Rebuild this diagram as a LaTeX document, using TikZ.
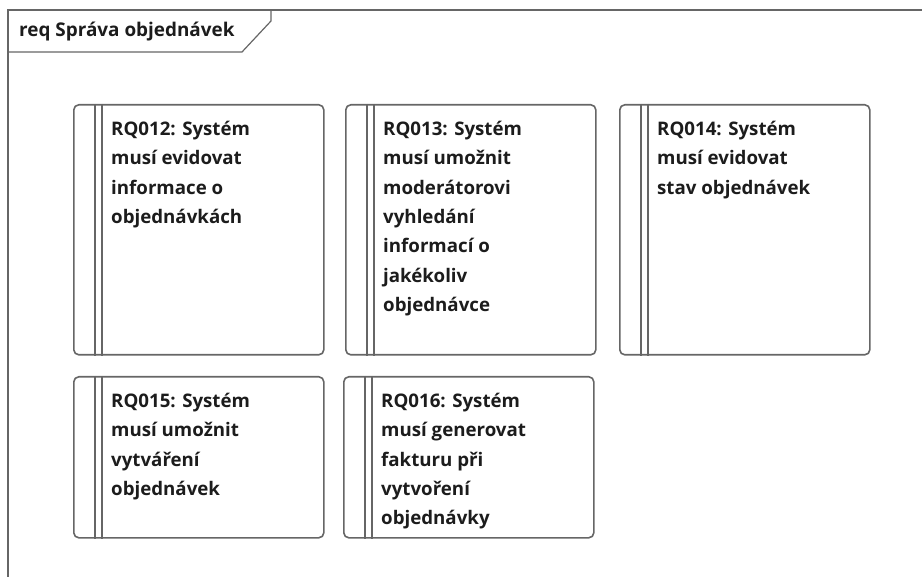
\documentclass[tikz,border=0pt]{standalone}
\usepackage{fontspec}
\setmainfont{Open Sans}
\definecolor{boxgray}{HTML}{666666}
\definecolor{txt}{HTML}{1c1c1c}
\tikzset{
  reqbox/.style={draw=boxgray, line width=1.6pt, rounded corners=5pt, minimum width=250pt, minimum height=#1, anchor=north west, inner sep=0pt},
  barline/.style={draw=boxgray, line width=1.3pt},
  reqtext/.style={anchor=north west, inner sep=0pt, align=left, text=txt, font=\fontsize{18.7pt}{29.3pt}\selectfont\bfseries},
  framel/.style={draw=boxgray, line width=1.2pt}
}
\begin{document}
\begin{tikzpicture}[x=1pt,y=-1pt]
\useasboundingbox (0,0) rectangle (922,577);
% frame
\coordinate (f1) at (8,590);
\coordinate (f2) at (8,10);
\coordinate (f3) at (930,10);
\draw[framel] (f1) -- (f2) -- (f3);
\coordinate (t1) at (8,52);
\coordinate (t2) at (242,52);
\coordinate (t3) at (271,21);
\coordinate (t4) at (271,10);
\draw[framel] (t1) -- (t2) -- (t3) -- (t4);
\node[anchor=base west, inner sep=0pt, text=txt, font=\fontsize{18.9pt}{20pt}\selectfont\bfseries] (title) at (19,37) {req Správa objednávek};
% boxes
\node[reqbox=250pt] (b1) at (73,104) {};
\node[reqbox=250pt] (b2) at (345,104) {};
\node[reqbox=250pt] (b3) at (619,104) {};
\node[reqbox=161pt] (b4) at (73,376) {};
\node[reqbox=161pt] (b5) at (343,376) {};
\foreach \b in {b1,b2,b3,b4,b5}{
  \draw[barline] ([xshift=22pt]\b.north west) -- ([xshift=22pt]\b.south west);
  \draw[barline] ([xshift=29pt]\b.north west) -- ([xshift=29pt]\b.south west);
}
\node[reqtext] (x1) at ([xshift=38pt,yshift=-17pt]b1.north west) {RQ012: Systém\\musí evidovat\\informace o\\objednávkách};
\node[reqtext] (x2) at ([xshift=38pt,yshift=-17pt]b2.north west) {RQ013: Systém\\musí umožnit\\moderátorovi\\vyhledání\\informací o\\jakékoliv\\objednávce};
\node[reqtext] (x3) at ([xshift=38pt,yshift=-17pt]b3.north west) {RQ014: Systém\\musí evidovat\\stav objednávek};
\node[reqtext] (x4) at ([xshift=38pt,yshift=-17pt]b4.north west) {RQ015: Systém\\musí umožnit\\vytváření\\objednávek};
\node[reqtext] (x5) at ([xshift=38pt,yshift=-17pt]b5.north west) {RQ016: Systém\\musí generovat\\fakturu při\\vytvoření\\objednávky};
\end{tikzpicture}
\end{document}
